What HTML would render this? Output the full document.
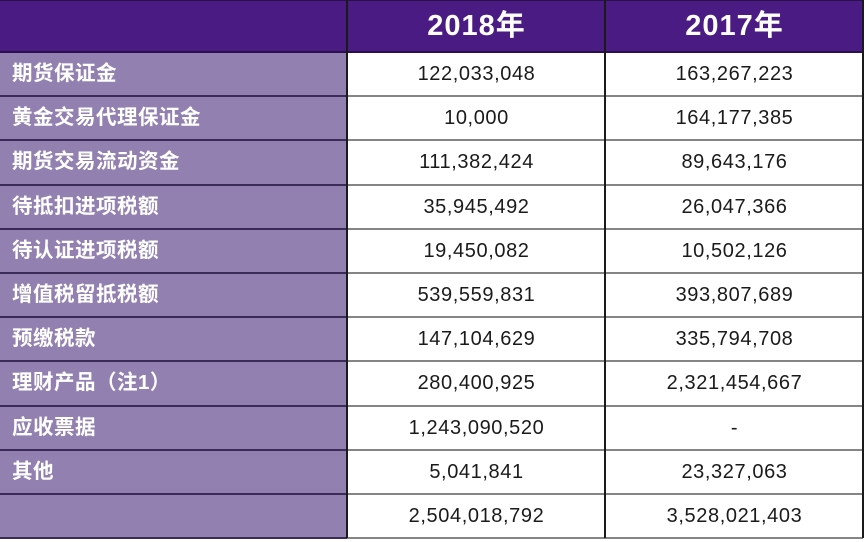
<!DOCTYPE html>
<html><head><meta charset="utf-8"><style>
html,body{margin:0;padding:0;background:#fff;}
body{width:865px;height:542px;position:relative;overflow:hidden;font-family:"Liberation Sans","Noto Sans CJK SC",sans-serif;}
.hdr{position:absolute;left:0;top:0;width:863px;height:52px;background:#4b1b84;border-top:1px solid #2a0f4a;box-sizing:border-box;}
.lcol{position:absolute;left:0;top:52px;width:347px;height:486px;background:#9281b0;}
.hl{position:absolute;height:2px;}
.hl.l{left:0;width:347px;background:#3a2a58;}
.hl.r{left:347px;width:516px;background:#858585;}
.vl{position:absolute;top:0;width:1.6px;height:538px;background:#1a1a1a;}
.yr{position:absolute;top:1px;height:51px;line-height:51px;color:#fff;font-weight:bold;font-size:29px;letter-spacing:1px;text-align:center;}
.lab{position:absolute;left:12px;color:#fff;font-weight:bold;font-size:20.5px;letter-spacing:0.5px;height:44px;line-height:44px;font-family:"Liberation Sans","Noto Sans CJK SC",sans-serif;}
.n{position:absolute;height:44px;line-height:44px;font-size:20px;letter-spacing:0.6px;color:#1a1a1a;text-align:center;}
.c2{left:348px;width:257px;}
.c3{left:606px;width:257px;}
</style></head><body>
<div class="hdr"></div>
<div class="lcol"></div>
<div class="yr c2">2018年</div>
<div class="yr c3">2017年</div>

<div class="hl l" style="top:51px;background:#2a0f4a;width:863px"></div>
<div class="hl l" style="top:95px"></div><div class="hl r" style="top:95px"></div>
<div class="hl l" style="top:139px"></div><div class="hl r" style="top:139px"></div>
<div class="hl l" style="top:184px"></div><div class="hl r" style="top:184px"></div>
<div class="hl l" style="top:228px"></div><div class="hl r" style="top:228px"></div>
<div class="hl l" style="top:272px"></div><div class="hl r" style="top:272px"></div>
<div class="hl l" style="top:316px"></div><div class="hl r" style="top:316px"></div>
<div class="hl l" style="top:360px"></div><div class="hl r" style="top:360px"></div>
<div class="hl l" style="top:405px"></div><div class="hl r" style="top:405px"></div>
<div class="hl l" style="top:449px"></div><div class="hl r" style="top:449px"></div>
<div class="hl l" style="top:493px"></div><div class="hl r" style="top:493px"></div>
<div class="hl l" style="top:537px"></div><div class="hl r" style="top:537px"></div>

<div class="vl" style="left:346px"></div>
<div class="vl" style="left:604px"></div>
<div class="vl" style="left:862px;width:1.5px"></div>

<div class="lab" style="top:52px">期货保证金</div>
<div class="lab" style="top:96px">黄金交易代理保证金</div>
<div class="lab" style="top:140px">期货交易流动资金</div>
<div class="lab" style="top:185px">待抵扣进项税额</div>
<div class="lab" style="top:229px">待认证进项税额</div>
<div class="lab" style="top:273px">增值税留抵税额</div>
<div class="lab" style="top:317px">预缴税款</div>
<div class="lab" style="top:361px">理财产品（注1）</div>
<div class="lab" style="top:406px">应收票据</div>
<div class="lab" style="top:450px">其他</div>

<div class="n c2" style="top:52px">122,033,048</div><div class="n c3" style="top:52px">163,267,223</div>
<div class="n c2" style="top:96px">10,000</div><div class="n c3" style="top:96px">164,177,385</div>
<div class="n c2" style="top:140px">111,382,424</div><div class="n c3" style="top:140px">89,643,176</div>
<div class="n c2" style="top:185px">35,945,492</div><div class="n c3" style="top:185px">26,047,366</div>
<div class="n c2" style="top:229px">19,450,082</div><div class="n c3" style="top:229px">10,502,126</div>
<div class="n c2" style="top:273px">539,559,831</div><div class="n c3" style="top:273px">393,807,689</div>
<div class="n c2" style="top:317px">147,104,629</div><div class="n c3" style="top:317px">335,794,708</div>
<div class="n c2" style="top:361px">280,400,925</div><div class="n c3" style="top:361px">2,321,454,667</div>
<div class="n c2" style="top:406px">1,243,090,520</div><div class="n c3" style="top:406px">-</div>
<div class="n c2" style="top:450px">5,041,841</div><div class="n c3" style="top:450px">23,327,063</div>
<div class="n c2" style="top:494px">2,504,018,792</div><div class="n c3" style="top:494px">3,528,021,403</div>
</body></html>
